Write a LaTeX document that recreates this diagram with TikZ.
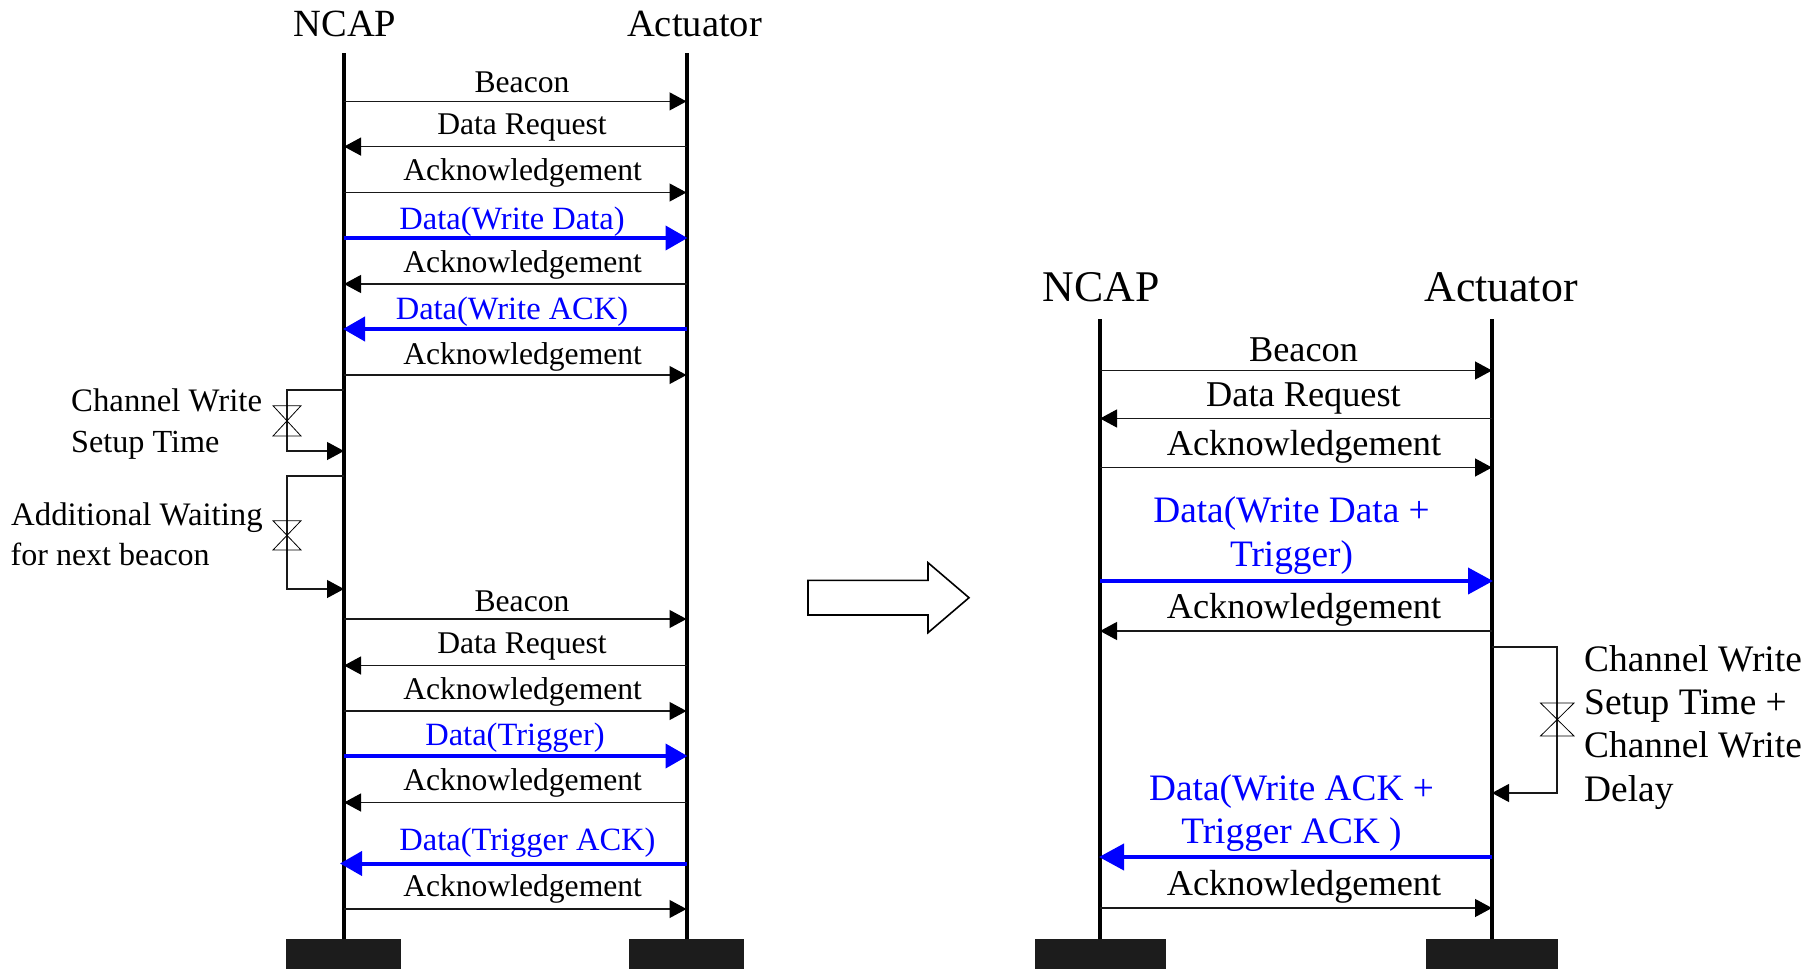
\documentclass[tikz,border=0pt]{standalone}
\usepackage{fontspec}
\setmainfont{Liberation Serif}
\usetikzlibrary{arrows.meta}
\definecolor{msgblue}{RGB}{0,0,255}
\definecolor{blockgray}{RGB}{28,28,28}
\tikzset{
  x=1pt,y=-1pt,
  life/.style={line width=4pt,black},
  msg/.style={line width=1.2pt,black!90,-{Triangle[length=17pt,width=18pt,color=black]}},
  bmsg/.style={line width=4pt,msgblue,-{Triangle[length=22pt,width=24pt]},shorten >=-1pt},
  bmsgr/.style={line width=4pt,msgblue,-{Triangle[length=25pt,width=26pt]},shorten >=-1pt},
  hookline/.style={line width=1.2pt,black!90},
  hookarrow/.style={hookline,-{Triangle[length=17pt,width=18pt,color=black]}},
  hour/.style={line width=0.8pt,black},
  block/.style={fill=blockgray,draw=none,inner sep=0pt,anchor=north west},
  lab/.style={anchor=base,inner sep=0pt,font=\fontsize{31.6}{36}\selectfont},
  blab/.style={anchor=base,inner sep=0pt,text=msgblue,font=\fontsize{32.5}{36}\selectfont},
  labr/.style={anchor=base,inner sep=0pt,font=\fontsize{36.3}{42}\selectfont},
  blabr/.style={anchor=base,inner sep=0pt,text=msgblue,font=\fontsize{37.3}{42}\selectfont},
  side/.style={anchor=base west,inner sep=0pt,font=\fontsize{32.8}{38}\selectfont},
  sider/.style={anchor=base west,inner sep=0pt,font=\fontsize{37.4}{42}\selectfont},
  ttl/.style={anchor=base,inner sep=0pt,font=\fontsize{38.5}{44}\selectfont},
  ttlr/.style={anchor=base,inner sep=0pt,font=\fontsize{43.8}{50}\selectfont},
}
\begin{document}
\begin{tikzpicture}
\useasboundingbox (0,0) rectangle (1818,969);
% blocks
\node[block,minimum width=115pt,minimum height=30pt] (ba) at (286,939) {};
\node[block,minimum width=115pt,minimum height=30pt] (bb) at (629,939) {};
\node[block,minimum width=131pt,minimum height=30pt] (bc) at (1035,939) {};
\node[block,minimum width=132pt,minimum height=30pt] (bd) at (1426,939) {};
% lifelines
\coordinate (A) at (344,53);
\coordinate (B) at (686.5,53);
\coordinate (C) at (1100,319);
\coordinate (D) at (1492,319);
\draw[life] (A) -- (A |- ba.north);
\draw[life] (B) -- (B |- bb.north);
\draw[life] (C) -- (C |- bc.north);
\draw[life] (D) -- (D |- bd.north);
% titles
\node[ttl] (t1) at (345,36.5) {NCAP};
\node[ttl] (t2) at (694.5,36.5) {Actuator};
\node[ttlr] (t3) at (1101,301) {NCAP};
\node[ttlr] (t4) at (1501,301) {Actuator};
% left messages
\foreach \y in {101.4,192.5,375,619,711,909} \draw[msg] (A |- 0,\y) -- (B |- 0,\y);
\foreach \y in {146.6,284,665.5,802.5} \draw[msg] (B |- 0,\y) -- (A |- 0,\y);
\draw[bmsg] (A |- 0,238) -- (B |- 0,238);
\draw[bmsg] (B |- 0,329) -- (A |- 0,329);
\draw[bmsg] (A |- 0,756) -- (B |- 0,756);
\draw[bmsg] (B |- 0,863.5) -- (341,863.5);
\node[lab] (l1) at (522,92.8) {Beacon};
\node[lab] (l2) at (522,134.5) {Data Request};
\node[lab] (l3) at (522.6,180) {Acknowledgement};
\node[blab] (l4) at (512,229) {Data(Write Data)};
\node[lab] (l5) at (522.6,272.5) {Acknowledgement};
\node[blab] (l6) at (512,319) {Data(Write ACK)};
\node[lab] (l7) at (522.6,364) {Acknowledgement};
\node[lab] (l8) at (522,611) {Beacon};
\node[lab] (l9) at (522,653) {Data Request};
\node[lab] (l10) at (522.6,699) {Acknowledgement};
\node[blab] (l11) at (515,745) {Data(Trigger)};
\node[lab] (l12) at (522.6,790) {Acknowledgement};
\node[blab] (l13) at (527.5,850) {Data(Trigger ACK)};
\node[lab] (l14) at (522.6,896.5) {Acknowledgement};
% right messages
\foreach \y in {370.5,467.5,908} \draw[msg] (C |- 0,\y) -- (D |- 0,\y);
\foreach \y in {418.5,631} \draw[msg] (D |- 0,\y) -- (C |- 0,\y);
\draw[bmsgr] (C |- 0,581) -- (D |- 0,581);
\draw[bmsgr] (D |- 0,857) -- (C |- 0,857);
\node[labr] (r1) at (1303.5,361.5) {Beacon};
\node[labr] (r2) at (1303.5,406) {Data Request};
\node[labr] (r3) at (1304,455.5) {Acknowledgement};
\node[blabr] (r4) at (1291.5,522.5) {Data(Write Data +};
\node[blabr] (r5) at (1291.5,566) {Trigger)};
\node[labr] (r6) at (1304,618.5) {Acknowledgement};
\node[blabr] (r7) at (1291.5,800) {Data(Write ACK +};
\node[blabr] (r8) at (1291.5,843) {Trigger ACK )};
\node[labr] (r9) at (1304,895) {Acknowledgement};
% left hooks
\draw[hookarrow] (A |- 0,390) -- (287,390) -- (287,451) -- (A |- 0,451);
\draw[hookarrow] (A |- 0,476) -- (287,476) -- (287,589) -- (A |- 0,589);
\draw[hour] (273,405.7) -- (301,405.7) -- (273,436) -- (301,436) -- cycle;
\draw[hour] (273,520.7) -- (301,520.7) -- (273,550) -- (301,550) -- cycle;
\node[side] (s1) at (71,411.7) {Channel Write};
\node[side,font=\fontsize{32.2}{38}\selectfont] (s2) at (71,452) {Setup Time};
\node[side] (s3) at (11,525) {Additional Waiting};
\node[side,font=\fontsize{32}{38}\selectfont] (s4) at (10.5,565) {for next beacon};
% right hook
\draw[hookarrow] (D |- 0,647) -- (1557,647) -- (1557,793) -- (D |- 0,793);
\draw[hour] (1540.5,703) -- (1574,703) -- (1540.5,736) -- (1574,736) -- cycle;
\node[sider] (s5) at (1584,671.5) {Channel Write};
\node[sider] (s6) at (1584,714) {Setup Time +};
\node[sider] (s7) at (1584,757.5) {Channel Write};
\node[sider] (s8) at (1584,801.5) {Delay};
% block arrow
\draw[line width=1.6pt,black,miter limit=10] (808,580.3) -- (928,580.3) -- (928,562.7) -- (969,597.7) -- (928,632.7) -- (928,615) -- (808,615) -- cycle;
\end{tikzpicture}
\end{document}
